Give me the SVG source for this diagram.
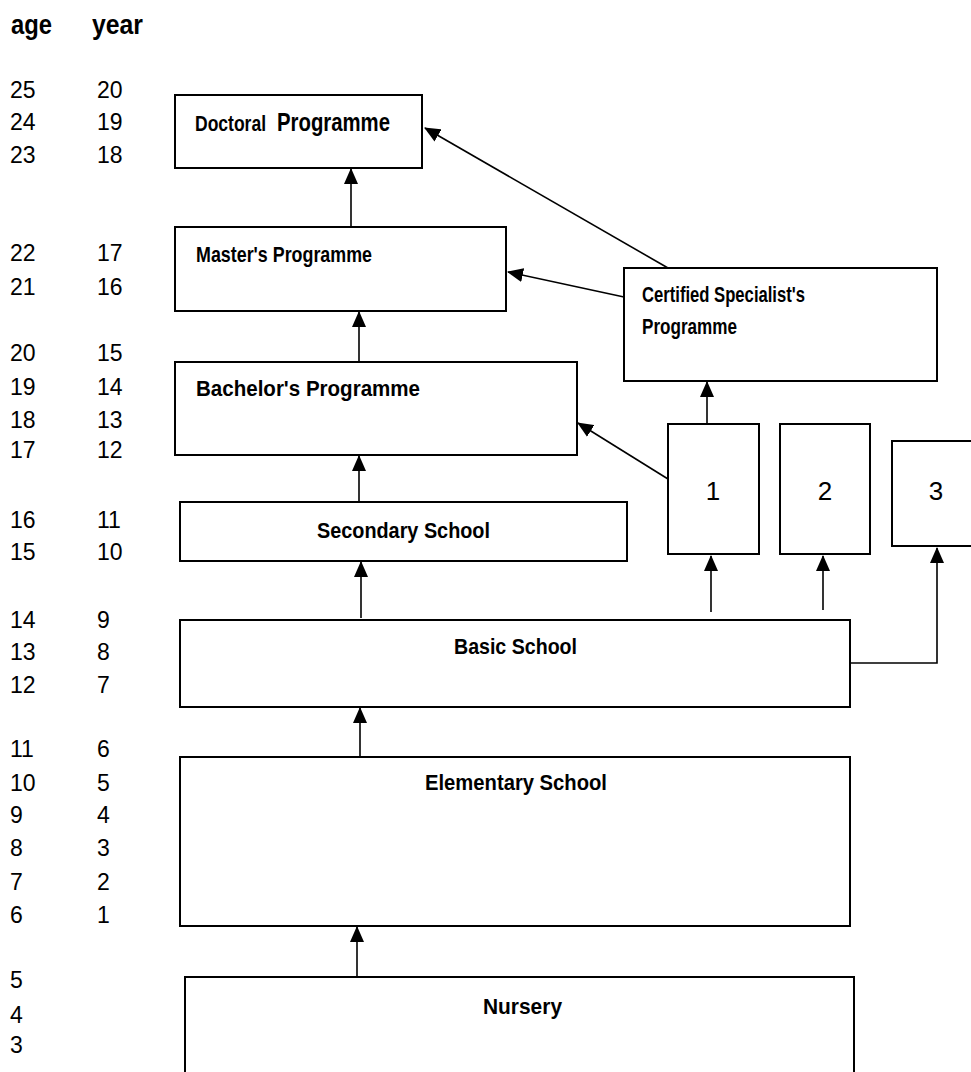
<svg xmlns="http://www.w3.org/2000/svg" width="971" height="1072" viewBox="0 0 971 1072">
<style>
.box{fill:#fff;stroke:#000;stroke-width:2}
.lbl{font-family:"Liberation Sans",Arial,sans-serif;font-weight:bold;font-size:22px;fill:#000}
.num{font-family:"Liberation Sans",Arial,sans-serif;font-size:23px;fill:#000}
.hdr{font-family:"Liberation Sans",Arial,sans-serif;font-weight:bold;font-size:28px;fill:#000}
.big{font-family:"Liberation Sans",Arial,sans-serif;font-size:26px;fill:#000}
.con{fill:none;stroke:#000;stroke-width:1.6}
</style>
<defs>
<marker id="ah" markerUnits="userSpaceOnUse" markerWidth="16" markerHeight="14" refX="15" refY="7" orient="auto">
<path d="M0,0 L16,7 L0,14 z" fill="#000"/>
</marker>
</defs>
<rect width="971" height="1072" fill="#fff"/>
<g id="axis">
<text class="hdr" x="11" y="34" textLength="41" lengthAdjust="spacingAndGlyphs">age</text>
<text class="hdr" x="92" y="34" textLength="51" lengthAdjust="spacingAndGlyphs">year</text>
<g class="num">
<text x="10" y="98">25</text><text x="97" y="98">20</text>
<text x="10" y="130">24</text><text x="97" y="130">19</text>
<text x="10" y="163">23</text><text x="97" y="163">18</text>
<text x="10" y="261">22</text><text x="97" y="261">17</text>
<text x="10" y="295">21</text><text x="97" y="295">16</text>
<text x="10" y="361">20</text><text x="97" y="361">15</text>
<text x="10" y="395">19</text><text x="97" y="395">14</text>
<text x="10" y="428">18</text><text x="97" y="428">13</text>
<text x="10" y="458">17</text><text x="97" y="458">12</text>
<text x="10" y="528">16</text><text x="97" y="528">11</text>
<text x="10" y="560">15</text><text x="97" y="560">10</text>
<text x="10" y="628">14</text><text x="97" y="628">9</text>
<text x="10" y="660">13</text><text x="97" y="660">8</text>
<text x="10" y="693">12</text><text x="97" y="693">7</text>
<text x="10" y="757">11</text><text x="97" y="757">6</text>
<text x="10" y="791">10</text><text x="97" y="791">5</text>
<text x="10" y="823">9</text><text x="97" y="823">4</text>
<text x="10" y="856">8</text><text x="97" y="856">3</text>
<text x="10" y="890">7</text><text x="97" y="890">2</text>
<text x="10" y="923">6</text><text x="97" y="923">1</text>
<text x="10" y="988">5</text>
<text x="10" y="1023">4</text>
<text x="10" y="1053">3</text>
</g>
</g>
<g id="connectors">
<line class="con" x1="351" y1="228" x2="351" y2="169" marker-end="url(#ah)"/>
<line class="con" x1="359" y1="362" x2="359" y2="312" marker-end="url(#ah)"/>
<line class="con" x1="359" y1="502" x2="359" y2="456" marker-end="url(#ah)"/>
<line class="con" x1="361" y1="618" x2="361" y2="562" marker-end="url(#ah)"/>
<line class="con" x1="360" y1="757" x2="360" y2="708" marker-end="url(#ah)"/>
<line class="con" x1="357" y1="977" x2="357" y2="927" marker-end="url(#ah)"/>
<line class="con" x1="711" y1="612" x2="711" y2="556" marker-end="url(#ah)"/>
<line class="con" x1="823" y1="610" x2="823" y2="556" marker-end="url(#ah)"/>
<polyline class="con" points="850,663 937,663 937,548" marker-end="url(#ah)"/>
<line class="con" x1="707" y1="429" x2="707" y2="382" marker-end="url(#ah)"/>
<line class="con" x1="668" y1="479" x2="578" y2="423" marker-end="url(#ah)"/>
<line class="con" x1="624" y1="297" x2="508" y2="272" marker-end="url(#ah)"/>
<line class="con" x1="668" y1="268" x2="425" y2="128" marker-end="url(#ah)"/>
</g>
<g id="doctoral">
<rect class="box" x="175" y="95" width="247" height="73"/>
<text class="lbl" x="195" y="131" textLength="71" lengthAdjust="spacingAndGlyphs">Doctoral</text>
<text class="lbl" x="277" y="131" style="font-size:26px" textLength="113" lengthAdjust="spacingAndGlyphs">Programme</text>
</g>
<g id="master">
<rect class="box" x="175" y="227" width="331" height="84"/>
<text class="lbl" x="196" y="262" textLength="176" lengthAdjust="spacingAndGlyphs">Master's Programme</text>
</g>
<g id="bachelor">
<rect class="box" x="175" y="362" width="402" height="93"/>
<text class="lbl" x="196" y="396" textLength="224" lengthAdjust="spacingAndGlyphs">Bachelor's Programme</text>
</g>
<g id="certified">
<rect class="box" x="624" y="268" width="313" height="113"/>
<text class="lbl" x="642" y="302" textLength="163" lengthAdjust="spacingAndGlyphs">Certified Specialist's</text>
<text class="lbl" x="642" y="334" textLength="95" lengthAdjust="spacingAndGlyphs">Programme</text>
</g>
<g id="secondary">
<rect class="box" x="180" y="502" width="447" height="59"/>
<text class="lbl" x="317" y="538" textLength="173" lengthAdjust="spacingAndGlyphs">Secondary School</text>
</g>
<g id="box1">
<rect class="box" x="668" y="424" width="91" height="130"/>
<text class="big" x="713" y="500" text-anchor="middle">1</text>
</g>
<g id="box2">
<rect class="box" x="780" y="424" width="90" height="130"/>
<text class="big" x="825" y="500" text-anchor="middle">2</text>
</g>
<g id="box3">
<rect class="box" x="892" y="441" width="100" height="105"/>
<text class="big" x="936" y="500" text-anchor="middle">3</text>
</g>
<g id="basic">
<rect class="box" x="180" y="620" width="670" height="87"/>
<text class="lbl" x="454" y="654" textLength="123" lengthAdjust="spacingAndGlyphs">Basic School</text>
</g>
<g id="elementary">
<rect class="box" x="180" y="757" width="670" height="169"/>
<text class="lbl" x="425" y="790" textLength="182" lengthAdjust="spacingAndGlyphs">Elementary School</text>
</g>
<g id="nursery">
<rect class="box" x="185" y="977" width="669" height="110"/>
<text class="lbl" x="483" y="1014" textLength="79" lengthAdjust="spacingAndGlyphs">Nursery</text>
</g>
</svg>
